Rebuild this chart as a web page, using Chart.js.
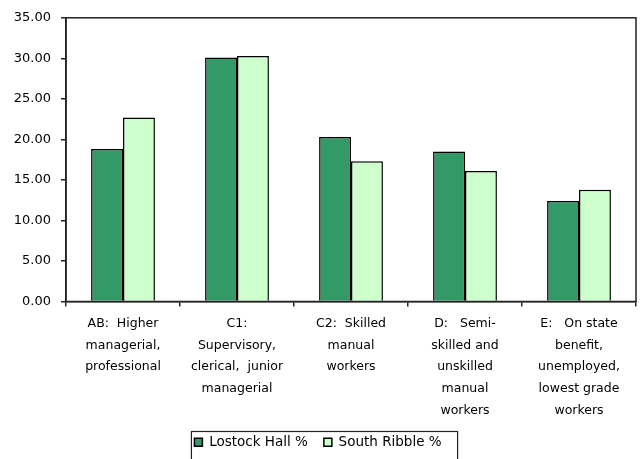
<!DOCTYPE html>
<html>
<head>
<meta charset="utf-8">
<script src="https://cdn.jsdelivr.net/npm/chart.js@4"></script>
<style>
  html, body { margin: 0; padding: 0; background: #fff; }
  #wrap { width: 643px; height: 459px; }
</style>
</head>
<body>
<div id="wrap"><canvas id="grades"></canvas></div>
<script>
// social grade categories (multi-line labels)
const categories = [
    ['AB:  Higher', 'managerial,', 'professional'],
    ['C1:', 'Supervisory,', 'clerical,  junior', 'managerial'],
    ['C2:  Skilled', 'manual', 'workers'],
    ['D:   Semi-', 'skilled and', 'unskilled', 'manual', 'workers'],
    ['E:   On state', 'benefit,', 'unemployed,', 'lowest grade', 'workers']
];
const lostockHall = [18.8, 30.1, 20.3, 18.5, 12.4];
const southRibble = [22.7, 30.3, 17.3, 16.1, 13.8];
const yTicks = [0, 5, 10, 15, 20, 25, 30, 35];

const FONT = 'DejaVu Sans';

// box around plot area and around the legend
const frames = {
    id: 'frames',
    afterDraw(chart) {
        const c = chart.ctx;
        const a = chart.chartArea;
        c.save();
        c.strokeStyle = '#222';
        c.lineWidth = 1.5;
        c.strokeRect(a.left, a.top, a.right - a.left, a.bottom - a.top);
        const boxes = chart.legend.legendHitBoxes;
        if (boxes && boxes.length) {
            const first = boxes[0], last = boxes[boxes.length - 1];
            const x0 = first.left - 3, x1 = last.left + last.width + 16;
            const y0 = first.top - 4;
            c.lineWidth = 1.2;
            c.strokeRect(x0, y0, x1 - x0, 40);
        }
        c.restore();
    }
};

const ctx = document.getElementById('grades').getContext('2d');
new Chart(ctx, {
    type: 'bar',
    data: {
        labels: categories,
        datasets: [{
            label: 'Lostock Hall %',
            data: lostockHall,
            backgroundColor: '#339966',
            borderColor: '#000',
            borderWidth: 1.5
        }, {
            label: 'South Ribble %',
            data: southRibble,
            backgroundColor: '#ccffcc',
            borderColor: '#000',
            borderWidth: 1.5
        }]
    },
    options: {
        responsive: true,
        maintainAspectRatio: false,
        animation: false,
        layout: { padding: { top: 16, right: 7, left: 0, bottom: 0 } },
        datasets: { bar: { categoryPercentage: 0.56, barPercentage: 1 } },
        plugins: {
            tooltip: { enabled: false },
            legend: {
                position: 'bottom',
                labels: {
                    font: { family: FONT, size: 13.5 },
                    color: '#000',
                    boxWidth: 8,
                    boxHeight: 8,
                    padding: 16
                }
            }
        },
        scales: {
            x: {
                grid: { offset: true, drawOnChartArea: false, drawTicks: true, tickLength: 5, color: '#222', lineWidth: 1.5 },
                border: { color: '#222', width: 1.5 },
                ticks: {
                    font: { family: FONT, size: 12.5, lineHeight: 1.75 },
                    color: '#000',
                    maxRotation: 0,
                    autoSkip: false,
                    padding: 6
                },
                afterFit(scale) { scale.height = 118; }
            },
            y: {
                min: 0,
                max: 35,
                afterBuildTicks(scale) { scale.ticks = yTicks.map(v => ({ value: v })); },
                grid: { drawOnChartArea: false, drawTicks: true, tickLength: 5, color: '#222', lineWidth: 1.5 },
                border: { color: '#222', width: 1.5 },
                ticks: {
                    font: { family: FONT, size: 13 },
                    color: '#000',
                    padding: 10,
                    callback: v => v.toFixed(2)
                },
                afterFit(scale) { scale.width = 66; }
            }
        }
    },
    plugins: [frames]
});
</script>
</body>
</html>
